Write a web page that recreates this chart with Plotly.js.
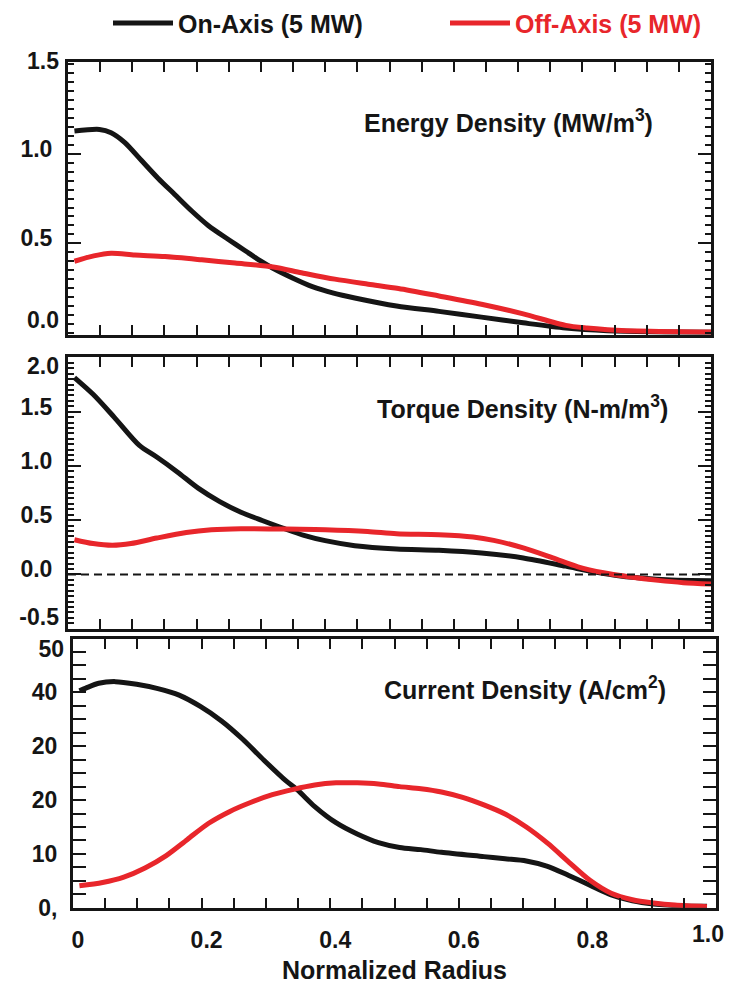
<!DOCTYPE html>
<html><head><meta charset="utf-8">
<script src="https://cdn.plot.ly/plotly-3.0.1.min.js"></script>
<style>body{margin:0;padding:0;background:#fff}#chart{width:743px;height:984px}</style>
</head><body><div id="chart"></div>
<script>
// ---- Data ----
const seriesNames = ["On-Axis (5 MW)", "Off-Axis (5 MW)"];
const panelTitles = ["Energy Density (MW/m<sup>3</sup>)", "Torque Density (N-m/m<sup>3</sup>)", "Current Density (A/cm<sup>2</sup>)"];
const xTitle = "Normalized Radius";

const energyOnX  = [0.01,0.049,0.067,0.088,0.114,0.14,0.166,0.192,0.218,0.25,0.275,0.3,0.318,0.35,0.38,0.413,0.446,0.511,0.577,0.643,0.708,0.774,0.839,0.905,1.0];
const energyOnY  = [1.127,1.136,1.118,1.064,0.964,0.864,0.773,0.682,0.6,0.52,0.46,0.40,0.362,0.305,0.258,0.222,0.195,0.15,0.12,0.088,0.056,0.027,0.012,0.006,0.004];
const energyOffX = [0.01,0.04,0.067,0.104,0.151,0.208,0.26,0.319,0.363,0.415,0.467,0.514,0.577,0.643,0.708,0.774,0.807,0.839,0.905,1.0];
const energyOffY = [0.40,0.43,0.445,0.435,0.426,0.408,0.39,0.368,0.336,0.30,0.272,0.248,0.206,0.16,0.106,0.042,0.027,0.018,0.009,0.005];

const torqueOnX  = [0.01,0.039,0.072,0.111,0.138,0.170,0.203,0.236,0.269,0.302,0.334,0.367,0.4,0.446,0.511,0.577,0.643,0.708,0.774,0.820,0.859,0.905,0.938,1.0];
const torqueOnY  = [1.814,1.66,1.448,1.189,1.082,0.945,0.793,0.671,0.573,0.497,0.427,0.36,0.311,0.265,0.235,0.223,0.198,0.152,0.076,0.021,-0.015,-0.04,-0.052,-0.058];
const torqueOffX = [0.01,0.039,0.069,0.098,0.138,0.184,0.223,0.269,0.334,0.4,0.466,0.511,0.577,0.63,0.662,0.708,0.754,0.793,0.833,0.872,0.918,0.957,1.0];
const torqueOffY = [0.32,0.284,0.268,0.284,0.335,0.387,0.412,0.421,0.418,0.412,0.396,0.375,0.366,0.345,0.314,0.244,0.152,0.07,0.015,-0.021,-0.055,-0.076,-0.088];

const currentOnX  = [0.01,0.02,0.04,0.066,0.099,0.132,0.165,0.198,0.231,0.264,0.297,0.33,0.349,0.376,0.409,0.442,0.475,0.508,0.541,0.573,0.639,0.672,0.705,0.738,0.771,0.804,0.837,0.870,0.903,0.936,0.986];
const currentOnY  = [40.3,40.8,41.7,42.0,41.5,40.7,39.5,37.4,34.7,31.3,27.4,23.7,21.9,18.8,15.8,13.7,12.1,11.2,10.8,10.3,9.5,9.1,8.7,7.7,6.0,4.2,2.4,1.3,0.7,0.4,0.3];
const currentOffX = [0.01,0.046,0.079,0.112,0.145,0.178,0.211,0.244,0.277,0.31,0.343,0.376,0.409,0.442,0.475,0.508,0.541,0.573,0.606,0.639,0.672,0.705,0.738,0.771,0.804,0.837,0.870,0.903,0.936,0.986];
const currentOffY = [4.1,4.7,5.7,7.4,9.7,12.7,15.7,17.9,19.6,21.0,22.0,22.8,23.2,23.2,23.0,22.5,22.1,21.5,20.5,19.1,17.4,15.0,12.0,8.5,5.1,2.7,1.5,0.9,0.5,0.2];

// tick labels (the reference prints "20" twice on the current axis)
const xTickVals = [0,0.2,0.4,0.6,0.8];
const xTickText = ["0","0.2","0.4","0.6","0.8"];
const xEnd = [1.0, "1.0"];
const y1TickVals = [0.5,1.0];
const y1TickText = ["0.5","1.0"];
const y1Top = [1.5, "1.5"], y1Bottom = [0, "0.0"];
const y2TickVals = [0,0.5,1.0,1.5];
const y2TickText = ["0.0","0.5","1.0","1.5"];
const y2Top = [2.0, "2.0"], y2Bottom = [-0.5, "-0.5"];
const y3TickVals = [0,10,20,30,40];
const y3TickText = ["0,","10","20","20","40"];
const y3Top = [50, "50"];

// ---- Styling ----
const BLACK = "#151515", RED = "#e8262b";
const FONT = "Liberation Sans, Arial, sans-serif";
const W = 743, H = 984;

function line(x, y, color, xa, ya, name, legend, show) {
  return {x, y, xaxis: xa, yaxis: ya, type: "scatter", mode: "lines",
    line: {color, width: 5, shape: "spline", smoothing: 0.8},
    name, legend, showlegend: show, hoverinfo: "skip"};
}
// empty carrier so that the label-only axes get drawn
function carrier(xa, ya) {
  return {x: [], y: [], xaxis: xa, yaxis: ya, type: "scatter", mode: "lines", showlegend: false, hoverinfo: "skip"};
}

const traces = [
  line(currentOnX, currentOnY, BLACK, "x3", "y3", seriesNames[0], "legend", true),
  line(currentOffX, currentOffY, RED, "x3", "y3", '<span style="color:' + RED + '">' + seriesNames[1] + '</span>', "legend2", true),
  line(energyOnX, energyOnY, BLACK, "x", "y", seriesNames[0], "legend", false),
  line(energyOffX, energyOffY, RED, "x", "y", seriesNames[1], "legend2", false),
  line(torqueOnX, torqueOnY, BLACK, "x2", "y2", seriesNames[0], "legend", false),
  line(torqueOffX, torqueOffY, RED, "x2", "y2", seriesNames[1], "legend2", false),
  carrier("x", "y4"), carrier("x", "y5"), carrier("x2", "y6"), carrier("x2", "y7"), carrier("x3", "y8"), carrier("x4", "y3")
];

const tickFont = {family: FONT, size: 23, weight: 700, color: BLACK};
const minorBase = {ticks: "inside", ticklen: 6, tickwidth: 2, tickcolor: BLACK, tick0: 0, showgrid: false};
function xAxis(domain, anchor, labels) {
  return {domain, anchor, range: [0, 1], showline: true, linewidth: 3, linecolor: BLACK,
    mirror: "allticks", ticks: "inside", ticklen: 10, tickwidth: 2, tickcolor: BLACK,
    showgrid: false, zeroline: false, tickvals: xTickVals, ticktext: labels ? xTickText : undefined,
    showticklabels: labels, tickfont: tickFont, ticklabelstandoff: 10, ticklabelshift: 5,
    minor: Object.assign({dtick: 0.05}, minorBase)};
}
function yAxis(domain, anchor, range, vals, text, minorD, shift) {
  return {domain, anchor, range, showline: true, linewidth: 3, linecolor: BLACK,
    mirror: "allticks", ticks: "inside", ticklen: 13, tickwidth: 2, tickcolor: BLACK,
    showgrid: false, zeroline: false, tickvals: vals, ticktext: text,
    tickfont: tickFont, ticklabelstandoff: 8, ticklabelshift: shift,
    minor: Object.assign({dtick: minorD}, minorBase)};
}
// label-only axes so the end labels sit inside the frame like the reference
function endLabelY(over, anchor, range, pair, shift) {
  return {overlaying: over, anchor, side: "left", range, showline: false, ticks: "",
    showgrid: false, zeroline: false, tickvals: [pair[0]], ticktext: [pair[1]],
    tickfont: tickFont, ticklabelstandoff: 8, ticklabelshift: shift};
}

const xd12 = [68 / W, 711 / W], xd3 = [73 / W, 716 / W];
const yd1 = [1 - 328 / H, 1 - 53 / H], yd2 = [1 - 625 / H, 1 - 351 / H], yd3 = [1 - 907 / H, 1 - 635 / H];
const r1 = [-0.01, 1.51], r2 = [-0.5, 2.0], r3 = [0, 50];

const titleFont = {family: FONT, size: 25, weight: 700, color: BLACK};
const legendFont = {family: FONT, size: 25, weight: 700, color: BLACK};
const layout = {
  width: W, height: H, margin: {l: 0, r: 0, t: 0, b: 0},
  paper_bgcolor: "#fff", plot_bgcolor: "rgba(0,0,0,0)",
  font: {family: FONT, color: BLACK},
  xaxis: xAxis(xd12, "y", false),
  xaxis2: xAxis(xd12, "y2", false),
  xaxis3: Object.assign(xAxis(xd3, "y3", true), {title: {text: xTitle, font: {family: FONT, size: 25, weight: 700, color: BLACK}, standoff: 10}}),
  xaxis4: {overlaying: "x3", anchor: "y3", side: "bottom", range: [0, 1], showline: false, ticks: "",
    showgrid: false, zeroline: false, tickvals: [xEnd[0]], ticktext: [xEnd[1]], tickfont: tickFont,
    ticklabelstandoff: 10, ticklabelshift: -8},
  yaxis: yAxis(yd1, "x", r1, y1TickVals, y1TickText, 0.05, -5),
  yaxis2: yAxis(yd2, "x2", r2, y2TickVals, y2TickText, 0.05, -5),
  yaxis3: yAxis(yd3, "x3", r3, y3TickVals, y3TickText, 2.5, 0),
  yaxis4: endLabelY("y", "x", r1, y1Top, -3),
  yaxis5: endLabelY("y", "x", r1, y1Bottom, -13),
  yaxis6: endLabelY("y2", "x2", r2, y2Top, 9),
  yaxis7: endLabelY("y2", "x2", r2, y2Bottom, -12),
  yaxis8: endLabelY("y3", "x3", r3, y3Top, 10),
  showlegend: true,
  legend: {orientation: "h", x: 108 / W, xanchor: "left", y: 1.010, yanchor: "top",
    font: legendFont, itemwidth: 60, bgcolor: "rgba(0,0,0,0)"},
  legend2: {orientation: "h", x: 445 / W, xanchor: "left", y: 1.010, yanchor: "top",
    font: legendFont, itemwidth: 60, bgcolor: "rgba(0,0,0,0)"},
  shapes: [{type: "line", xref: "x2 domain", x0: 0, x1: 1, yref: "y2", y0: 0, y1: 0,
    line: {color: BLACK, width: 2, dash: "8px,5px"}}],
  annotations: [
    {text: panelTitles[0], xref: "paper", yref: "paper", x: 655 / W, y: 1 - 112 / H, xanchor: "right", yanchor: "middle", showarrow: false, font: titleFont},
    {text: panelTitles[1], xref: "paper", yref: "paper", x: 670 / W, y: 1 - 401 / H, xanchor: "right", yanchor: "middle", showarrow: false, font: titleFont},
    {text: panelTitles[2], xref: "paper", yref: "paper", x: 668 / W, y: 1 - 685 / H, xanchor: "right", yanchor: "middle", showarrow: false, font: titleFont}
  ]
};

Plotly.newPlot("chart", traces, layout, {displayModeBar: false, staticPlot: true});
</script></body></html>
